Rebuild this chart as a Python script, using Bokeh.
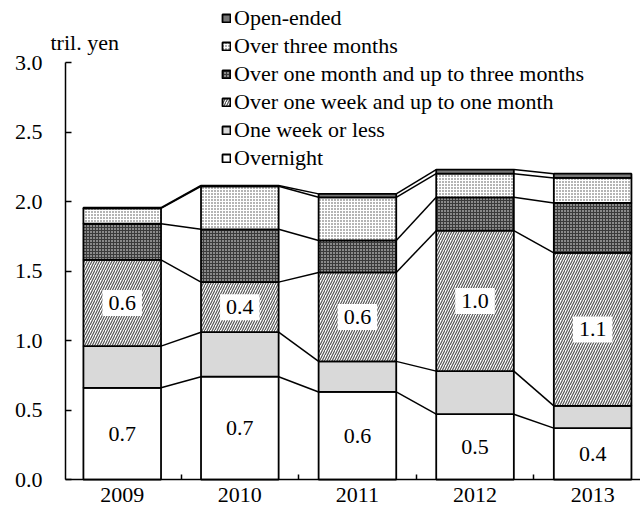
import numpy as np
from bokeh.plotting import figure
from bokeh.models import (ColumnDataSource, FixedTicker, NumeralTickFormatter,
                          Legend, LegendItem, Label, Range1d, LinearAxis)
from bokeh.core.properties import value
from bokeh.embed import file_html
from bokeh.resources import INLINE

# ---- data (tril. yen) ----
years = ["2009", "2010", "2011", "2012", "2013"]
overnight = [0.66, 0.74, 0.63, 0.47, 0.37]
one_week_or_less = [0.30, 0.32, 0.22, 0.31, 0.16]
one_week_to_one_month = [0.62, 0.36, 0.64, 1.01, 1.10]
one_to_three_months = [0.26, 0.38, 0.23, 0.24, 0.36]
over_three_months = [0.11, 0.31, 0.31, 0.17, 0.18]
open_ended = [0.005, 0.005, 0.025, 0.03, 0.03]
series_names = ["Overnight", "One week or less", "Over one week and up to one month",
                "Over one month and up to three months", "Over three months", "Open-ended"]
y_ticks = [0.0, 0.5, 1.0, 1.5, 2.0, 2.5, 3.0]
unit_label = "tril. yen"

FONT = "Liberation Serif"
series = [overnight, one_week_or_less, one_week_to_one_month,
          one_to_three_months, over_three_months, open_ended]
styles = [
    dict(fill_color="white"),
    dict(fill_color="#d9d9d9"),
    dict(fill_color="white", hatch_pattern="right_diagonal_line", hatch_color="#555555",
         hatch_scale=5, hatch_weight=1.2),
    dict(fill_color="#8a8a8a", hatch_pattern="cross", hatch_color="#3a3a3a",
         hatch_scale=3, hatch_weight=1),
    dict(fill_color="white", hatch_pattern="dot", hatch_color="#444444",
         hatch_scale=3, hatch_weight=1),
    dict(fill_color="#777777"),
]

x = np.arange(len(years), dtype=float)
W = 0.66
vals = np.array(series, dtype=float)
tops = np.cumsum(vals, axis=0)
bottoms = tops - vals

X0, X1 = -1.035, 4.407
Y0, Y1 = -0.273, 3.446
AX_X = -0.482

p = figure(width=640, height=517, output_backend="svg", toolbar_location=None,
           x_range=Range1d(X0, X1), y_range=Range1d(Y0, Y1),
           x_axis_location=None, y_axis_location=None, min_border=0)
p.outline_line_color = None
p.grid.visible = False
p.background_fill_color = "white"

# connector lines between adjacent bars
for k in range(len(series)):
    p.segment(x0=x[:-1] + W / 2, y0=tops[k][:-1], x1=x[1:] - W / 2, y1=tops[k][1:],
              line_color="black", line_width=1.5)

renderers = []
for k, name in enumerate(series_names):
    src = ColumnDataSource(dict(x=x, bottom=bottoms[k], top=tops[k]))
    r = p.vbar(x="x", bottom="bottom", top="top", width=W, source=src,
               line_color="black", line_width=1.8, **styles[k])
    renderers.append(r)

# value labels for overnight and one week-one month
for k in (0, 2):
    src = ColumnDataSource(dict(x=x, y=(bottoms[k] + tops[k]) / 2,
                                t=[f"{v:.1f}" for v in vals[k]]))
    p.text(x="x", y="y", text="t", source=src, text_align="center",
           text_baseline="middle", text_font=value(FONT), text_font_size="22px",
           text_color="black", background_fill_color="white", padding=6)

# axes
xaxis = LinearAxis(fixed_location=0, bounds=(AX_X, X1))
xaxis.ticker = FixedTicker(ticks=list(x), minor_ticks=[0.5, 1.5, 2.5, 3.5])
xaxis.major_label_overrides = {i: yr for i, yr in enumerate(years)}
xaxis.major_tick_in = 0
xaxis.major_tick_out = 0
xaxis.minor_tick_in = 5
xaxis.minor_tick_out = 0
xaxis.minor_tick_line_width = 1.5
xaxis.axis_line_width = 1.5
xaxis.major_label_standoff = 8
xaxis.major_label_text_font = FONT
xaxis.major_label_text_font_size = "22px"
xaxis.major_label_text_color = "black"
p.add_layout(xaxis, "below")

yaxis = LinearAxis(fixed_location=AX_X, bounds=(0, 3.0))
yaxis.ticker = FixedTicker(ticks=y_ticks)
yaxis.formatter = NumeralTickFormatter(format="0.0")
yaxis.major_tick_in = 6
yaxis.major_tick_out = 0
yaxis.minor_tick_line_color = None
yaxis.major_tick_line_width = 1.5
yaxis.axis_line_width = 1.5
yaxis.major_label_standoff = 23
yaxis.major_label_text_font = FONT
yaxis.major_label_text_font_size = "22px"
yaxis.major_label_text_color = "black"
p.add_layout(yaxis, "left")

p.add_layout(Label(x=50, y=475, x_units="screen", y_units="screen", text=unit_label,
                   text_font=FONT, text_font_size="22px", text_color="black",
                   text_baseline="alphabetic"))

items = [LegendItem(label=series_names[k], renderers=[renderers[k]])
         for k in reversed(range(len(series_names)))]
legend = Legend(items=items, location=(221, 346), background_fill_alpha=0,
                border_line_color=None, padding=0, margin=0, spacing=2,
                glyph_width=10, glyph_height=10, label_height=18, label_standoff=3,
                label_text_font=FONT, label_text_font_size="22px",
                label_text_color="black")
p.add_layout(legend)

open("out.html", "w").write(file_html(p, INLINE))
